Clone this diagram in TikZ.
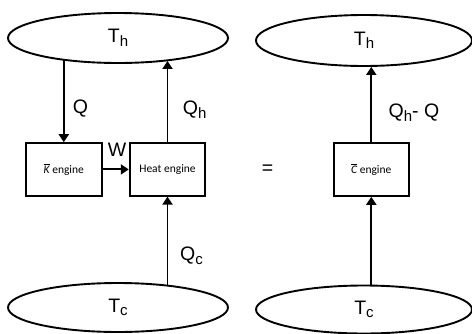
\documentclass[tikz,border=0pt]{standalone}
\usepackage{fontspec}
\setmainfont{Liberation Sans}
\newfontfamily\boxfont{Carlito}
\usetikzlibrary{shapes.geometric,arrows.meta}
\begin{document}
\begin{tikzpicture}[x=1pt,y=-1pt,
  reservoir/.style={ellipse,draw,line width=1.9pt,inner sep=0pt,font=\fontsize{19.5}{22}\selectfont},
  engbox/.style={rectangle,draw,line width=1.9pt,minimum width=75.5pt,minimum height=52.5pt,inner sep=0pt,font=\boxfont\fontsize{11.5}{13}\selectfont},
  flow/.style={line width=1.9pt,-{Triangle[length=8pt,width=10pt]}},
  lbl/.style={inner sep=0pt,font=\fontsize{19.5}{22}\selectfont}]
\useasboundingbox (0,0) rectangle (472,333);
\newcommand{\subs}[1]{\raisebox{-3.5pt}{\fontsize{15}{17}\selectfont #1}}
% reservoirs
\node[reservoir,minimum width=220pt,minimum height=50pt] (th1) at (118,38) {T\subs{h}};
\node[reservoir,minimum width=216pt,minimum height=51pt] (th2) at (364,40.5) {T\subs{h}};
\node[reservoir,minimum width=220pt,minimum height=49pt] (tc1) at (118,307.5) {T\subs{c}};
\node[reservoir,minimum width=216pt,minimum height=48pt] (tc2) at (364,309.5) {T\subs{c}};
% engines
\node[engbox] (kbox) at (63.8,169.4) {$\overline{\mbox{\boxfont\itshape K}}$ engine};
\node[engbox] (heat) at (167.5,169.4) {Heat engine};
\node[engbox] (cbox) at (371.3,169.6) {$\overline{\mbox{\boxfont\itshape C}}$ engine};
% flows
\draw[flow] (kbox.north |- th1.-158) -- (kbox.north);
\draw[flow] (heat.north) -- (heat.north |- th1.-24);
\draw[flow] (kbox.east) -- (heat.west);
\draw[flow] (heat.south |- tc1.24) -- (heat.south);
\draw[flow] (cbox.north) -- (cbox.north |- th2.south);
\draw[flow] (cbox.south |- tc2.north) -- (cbox.south);
% labels
\node[lbl] (lq) at (80.5,109) {Q};
\node[lbl] (lqh) at (194.7,110) {Q\subs{h}};
\node[lbl] (lw) at (117,150) {W};
\node[lbl] (lqc) at (191.5,256) {Q\subs{c}};
\node[lbl] (lqq) at (414,113) {Q\subs{h}- Q};
\node[lbl] (leq) at (267.5,170) {=};
\end{tikzpicture}
\end{document}
